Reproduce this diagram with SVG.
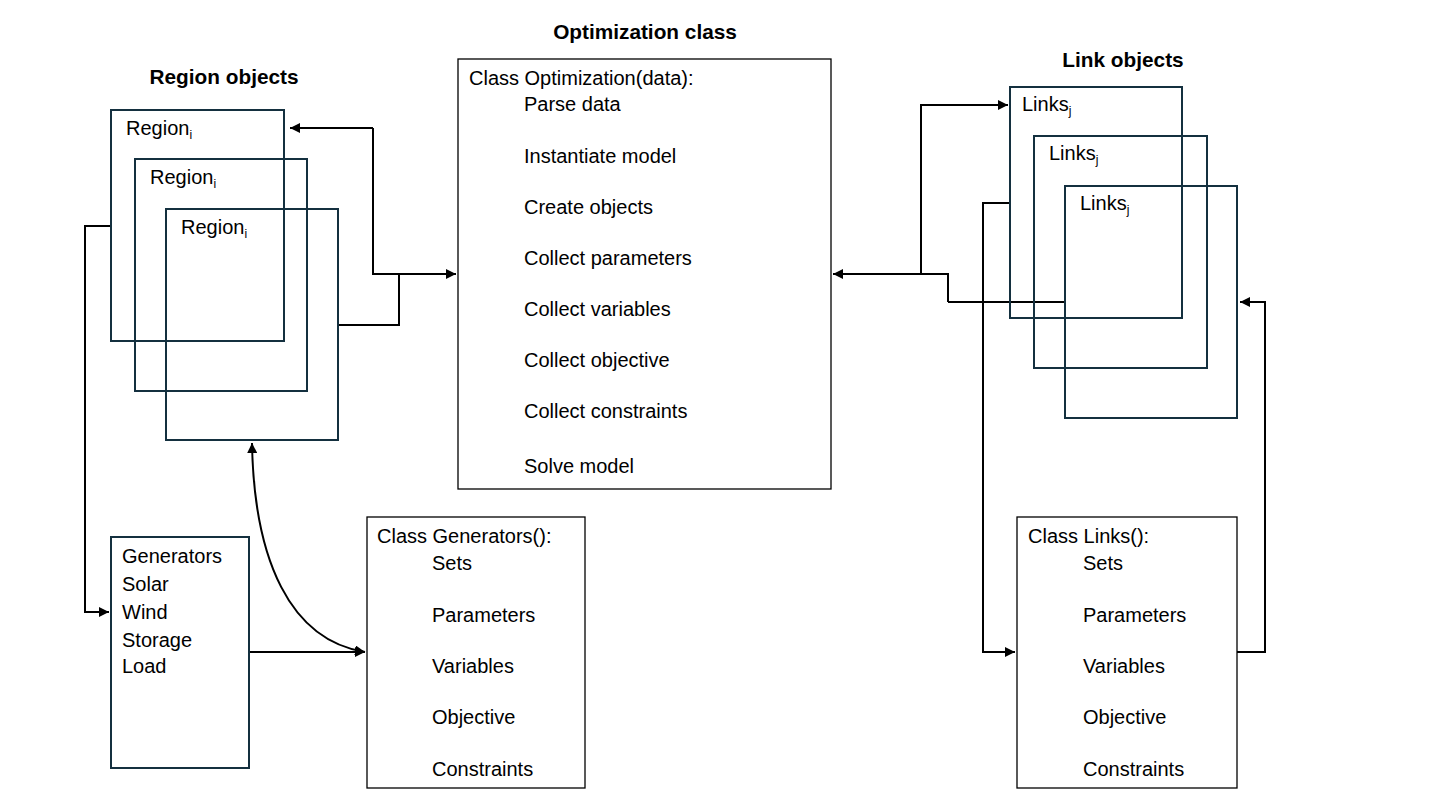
<svg xmlns="http://www.w3.org/2000/svg" width="1430" height="804" viewBox="0 0 1430 804">
<style>
  text { font-family: "Liberation Sans", Arial, sans-serif; fill: #000; }
  .title { font-size: 20.8px; font-weight: bold; }
  .body { font-size: 20px; }
  .sub { font-size: 12px; }
  .obj { fill: none; stroke: #14303f; stroke-width: 2; }
  .cls { fill: #fff; stroke: #000; stroke-width: 1.3; }
  .conn { fill: none; stroke: #000; stroke-width: 2; }
</style>
<defs>
  <marker id="arr" viewBox="0 0 10 10" refX="10" refY="5" markerWidth="5" markerHeight="5" orient="auto-start-reverse" markerUnits="strokeWidth">
    <path d="M0,0 L10,5 L0,10 z" fill="#000"/>
  </marker>
</defs>
<rect width="1430" height="804" fill="#fff"/>

<text class="title" x="645" y="39" text-anchor="middle">Optimization class</text>
<text class="title" x="224" y="84" text-anchor="middle">Region objects</text>
<text class="title" x="1123" y="67" text-anchor="middle">Link objects</text>

<g id="connectors">
  <path class="conn" d="M373,128 L373,274 L456,274" marker-end="url(#arr)"/>
  <path class="conn" d="M373,128 L290,128" marker-end="url(#arr)"/>
  <path class="conn" d="M339,325 L399,325 L399,274"/>
  <path class="conn" d="M111,226 L85,226 L85,612 L109,612" marker-end="url(#arr)"/>
  <path class="conn" d="M249,652 L365,652" marker-end="url(#arr)"/>
  <path class="conn" d="M252,443 C254,560 290,640 365,652" marker-start="url(#arr)" marker-end="url(#arr)"/>
  <path class="conn" d="M948,302 L948,274 L833,274" marker-end="url(#arr)"/>
  <path class="conn" d="M1065,302 L948,302"/>
  <path class="conn" d="M921,274 L921,105 L1008,105" marker-end="url(#arr)"/>
  <path class="conn" d="M1010,203 L983,203 L983,652 L1015,652" marker-end="url(#arr)"/>
  <path class="conn" d="M1237,652 L1265,652 L1265,302 L1240,302" marker-end="url(#arr)"/>
</g>

<g id="region1">
  <rect class="obj" x="111" y="110" width="173" height="231"/>
  <text class="body" x="126" y="135">Region<tspan class="sub" dy="4">i</tspan></text>
</g>
<g id="region2">
  <rect class="obj" x="135" y="159" width="172" height="232"/>
  <text class="body" x="150" y="184">Region<tspan class="sub" dy="4">i</tspan></text>
</g>
<g id="region3">
  <rect class="obj" x="166" y="209" width="172" height="231"/>
  <text class="body" x="181" y="234">Region<tspan class="sub" dy="4">i</tspan></text>
</g>

<g id="optimization">
  <rect class="cls" x="458" y="59" width="373" height="430"/>
  <text class="body" x="469" y="85">Class Optimization(data):</text>
  <text class="body" x="524" y="111">Parse data</text>
  <text class="body" x="524" y="163">Instantiate model</text>
  <text class="body" x="524" y="214">Create objects</text>
  <text class="body" x="524" y="265">Collect parameters</text>
  <text class="body" x="524" y="316">Collect variables</text>
  <text class="body" x="524" y="367">Collect objective</text>
  <text class="body" x="524" y="418">Collect constraints</text>
  <text class="body" x="524" y="473">Solve model</text>
</g>

<g id="links1">
  <rect class="obj" x="1010" y="87" width="172" height="231"/>
  <text class="body" x="1022" y="111">Links<tspan class="sub" dy="4">j</tspan></text>
</g>
<g id="links2">
  <rect class="obj" x="1034" y="136" width="173" height="232"/>
  <text class="body" x="1049" y="160">Links<tspan class="sub" dy="4">j</tspan></text>
</g>
<g id="links3">
  <rect class="obj" x="1065" y="186" width="172" height="232"/>
  <text class="body" x="1080" y="210">Links<tspan class="sub" dy="4">j</tspan></text>
</g>

<g id="generators">
  <rect class="obj" x="111" y="537" width="138" height="231"/>
  <text class="body" x="122" y="563">Generators</text>
  <text class="body" x="122" y="591">Solar</text>
  <text class="body" x="122" y="619">Wind</text>
  <text class="body" x="122" y="647">Storage</text>
  <text class="body" x="122" y="673">Load</text>
</g>

<g id="class-generators">
  <rect class="cls" x="367" y="517" width="218" height="271"/>
  <text class="body" x="377" y="543">Class Generators():</text>
  <text class="body" x="432" y="570">Sets</text>
  <text class="body" x="432" y="622">Parameters</text>
  <text class="body" x="432" y="673">Variables</text>
  <text class="body" x="432" y="724">Objective</text>
  <text class="body" x="432" y="776">Constraints</text>
</g>

<g id="class-links">
  <rect class="cls" x="1017" y="517" width="220" height="271"/>
  <text class="body" x="1028" y="543">Class Links():</text>
  <text class="body" x="1083" y="570">Sets</text>
  <text class="body" x="1083" y="622">Parameters</text>
  <text class="body" x="1083" y="673">Variables</text>
  <text class="body" x="1083" y="724">Objective</text>
  <text class="body" x="1083" y="776">Constraints</text>
</g>
</svg>
